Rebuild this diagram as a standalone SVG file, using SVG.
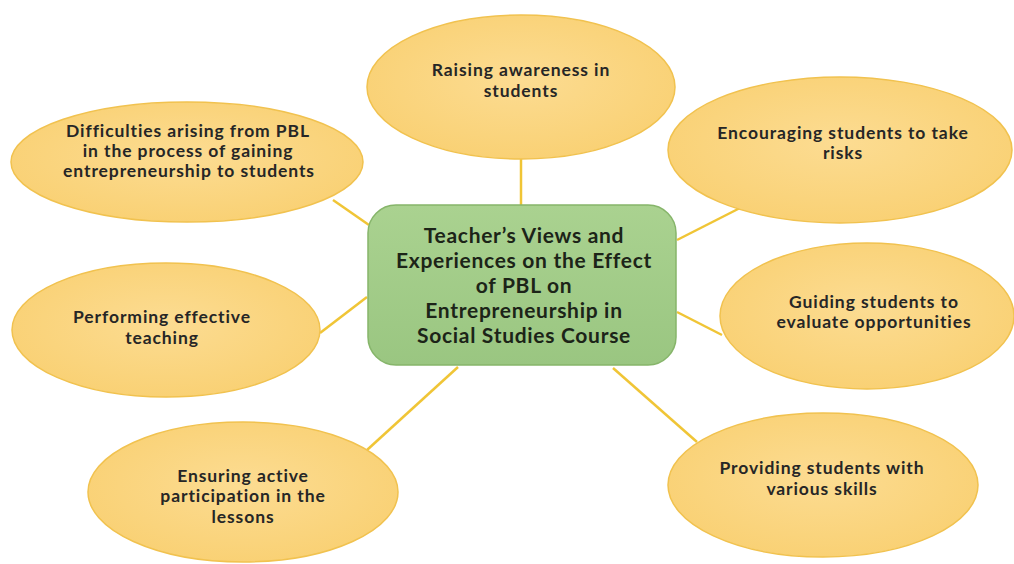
<svg xmlns="http://www.w3.org/2000/svg" width="1014" height="564" viewBox="0 0 1014 564">
<defs>
<radialGradient id="gold" cx="50%" cy="45%" r="60%">
<stop offset="0" stop-color="#fcdc92"/>
<stop offset="1" stop-color="#f9d072"/>
</radialGradient>
<linearGradient id="green" x1="0" y1="0" x2="0" y2="1">
<stop offset="0" stop-color="#aad290"/>
<stop offset="1" stop-color="#9ac681"/>
</linearGradient>
</defs>
<style>
.bg{fill:#ffffff}
.oval{fill:url(#gold);stroke:#f1c24f;stroke-width:1.5}
.hub{fill:url(#green);stroke:#86b56a;stroke-width:1.5}
.conn line{stroke:#f0c536;stroke-width:2.5}
.t{font-family:Lato,"Liberation Sans",sans-serif;font-weight:bold;font-size:17.5px;letter-spacing:0.9px;fill:#262626;text-anchor:middle}
.ht{font-family:Lato,"Liberation Sans",sans-serif;font-weight:bold;font-size:21px;letter-spacing:0.7px;fill:#1c2418;text-anchor:middle}
</style>
<rect class="bg" x="0" y="0" width="1014" height="564"/>
<g id="connectors" class="conn">
<line x1="521" y1="159" x2="521" y2="206"/>
<line x1="333" y1="200" x2="369" y2="225"/>
<line x1="740" y1="208" x2="677" y2="240"/>
<line x1="677" y1="312" x2="722" y2="335"/>
<line x1="320" y1="333" x2="367" y2="297"/>
<line x1="367" y1="450" x2="458" y2="367"/>
<line x1="613" y1="368" x2="697" y2="442"/>
</g>
<g id="n-awareness">
<ellipse class="oval" cx="521" cy="87" rx="154" ry="72"/>
<text class="t" x="521" y="76">Raising awareness in</text>
<text class="t" x="521" y="97">students</text>
</g>
<g id="n-difficulties">
<ellipse class="oval" cx="187" cy="162" rx="176" ry="60"/>
<text class="t" x="188" y="137">Difficulties arising from PBL</text>
<text class="t" x="188" y="157">in the process of gaining</text>
<text class="t" x="189" y="177">entrepreneurship to students</text>
</g>
<g id="n-risks">
<ellipse class="oval" cx="840" cy="150" rx="172" ry="73"/>
<text class="t" x="843" y="139">Encouraging  students to take</text>
<text class="t" x="843" y="159">risks</text>
</g>
<g id="n-opportunities">
<ellipse class="oval" cx="867" cy="316" rx="147" ry="73"/>
<text class="t" x="874" y="308">Guiding students to</text>
<text class="t" x="874" y="328">evaluate opportunities</text>
</g>
<g id="n-teaching">
<ellipse class="oval" cx="166" cy="330" rx="154" ry="67"/>
<text class="t" x="162" y="323">Performing effective</text>
<text class="t" x="162" y="344">teaching</text>
</g>
<g id="n-participation">
<ellipse class="oval" cx="243" cy="492" rx="155" ry="70"/>
<text class="t" x="243" y="482">Ensuring active</text>
<text class="t" x="243" y="502">participation in the</text>
<text class="t" x="243" y="523">lessons</text>
</g>
<g id="n-skills">
<ellipse class="oval" cx="823" cy="485" rx="155" ry="72"/>
<text class="t" x="822" y="474">Providing  students with</text>
<text class="t" x="822" y="495">various  skills</text>
</g>
<g id="n-center">
<rect class="hub" x="368" y="205" width="308" height="160" rx="28" ry="28"/>
<text class="ht" x="524" y="243">Teacher’s Views and</text>
<text class="ht" x="524" y="268">Experiences on the Effect</text>
<text class="ht" x="524" y="293">of PBL on</text>
<text class="ht" x="524" y="318">Entrepreneurship in</text>
<text class="ht" x="524" y="343">Social Studies Course</text>
</g>
</svg>
